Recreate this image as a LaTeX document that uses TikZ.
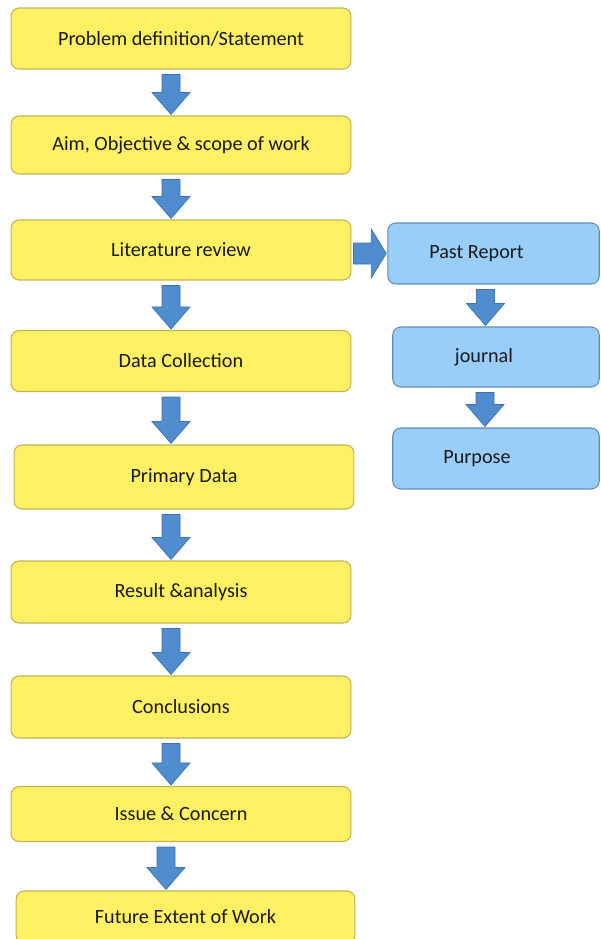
\documentclass[tikz,border=0pt]{standalone}
\usepackage{fontspec}
\setmainfont{Carlito}
\usepackage{xcolor}
\definecolor{box_yellow}{RGB}{255,240,100}
\definecolor{edge_yellow}{RGB}{190,180,80}
\definecolor{box_blue}{RGB}{153,206,250}
\definecolor{edge_blue}{RGB}{100,140,178}
\definecolor{arrow_blue}{RGB}{80,141,206}
\definecolor{arrow_edge}{RGB}{64,114,172}
\usetikzlibrary{calc}
\tikzset{
  stepyellow/.style={draw=edge_yellow, fill=box_yellow, line width=0.6pt, rounded corners=0.16cm,
    minimum width=6.8cm, text=black!90, font=\fontsize{11.5}{13}\selectfont},
  stepblue/.style={draw=edge_blue, fill=box_blue, line width=0.6pt, rounded corners=0.16cm,
    text=black!90, font=\fontsize{11.5}{13}\selectfont},
  blockarrow/.style={fill=arrow_blue, draw=arrow_edge, line width=0.4pt}
}
\newcommand{\downblock}[3]{%
  \draw[blockarrow] ($(#1.south)+(#3-9,5)$) -- ($(#1.south |- #2.north)+(#3-9,-23)$)
    -- ($(#1.south |- #2.north)+(#3-19,-23)$) -- ($(#1.south |- #2.north)+(#3,-1)$)
    -- ($(#1.south |- #2.north)+(#3+19,-23)$) -- ($(#1.south |- #2.north)+(#3+9,-23)$)
    -- ($(#1.south)+(#3+9,5)$) -- cycle;}

\begin{document}
\begin{tikzpicture}[x=0.02cm, y=-0.02cm]
\useasboundingbox (0,0) rectangle (601,939);

\node (prob) [stepyellow, minimum height=1.22cm] at (181,38.5) {Problem definition/Statement};
\node (aim) [stepyellow, minimum height=1.16cm] at (181,145) {Aim, Objective \& scope of work};
\node (lit) [stepyellow, minimum height=1.2cm] at (181,250) {Literature review};
\node (data) [stepyellow, minimum height=1.22cm] at (181,361) {Data Collection};
\node (prim) [stepyellow, minimum height=1.28cm] at (184,477) {Primary Data};
\node (res) [stepyellow, minimum height=1.24cm] at (181,592) {Result \&analysis};
\node (conc) [stepyellow, minimum height=1.24cm] at (181,707) {Conclusions};
\node (issue) [stepyellow, minimum height=1.1cm] at (181,814) {Issue \& Concern};
\node (future) [stepyellow, minimum height=1.04cm, minimum width=6.78cm] at (185.5,917) {Future Extent of Work};

\node (past) [stepblue, minimum width=4.23cm, minimum height=1.22cm] at (493.5,253.5) {Past Report\hspace*{0.68cm}};
\node (jour) [stepblue, minimum width=4.13cm, minimum height=1.2cm] at (496,357) {journal\hspace*{0.48cm}};
\node (purp) [stepblue, minimum width=4.13cm, minimum height=1.22cm] at (496,458.5) {Purpose\hspace*{0.76cm}};

\downblock{prob}{aim}{-10}
\downblock{aim}{lit}{-10}
\downblock{lit}{data}{-10}
\downblock{data}{prim}{-10}
\downblock{prim}{res}{-13}
\downblock{res}{conc}{-10}
\downblock{conc}{issue}{-10}
\downblock{issue}{future}{-15}

\downblock{past}{jour}{-8}
\downblock{jour}{purp}{-11}

\draw[blockarrow] ($(lit.east |- past.west)+(2,-10.5)$) -- ($(past.west)+(-16,-10.5)$)
  -- ($(past.west)+(-16,-24.5)$) -- ($(past.west)+(-1,0)$) -- ($(past.west)+(-16,24.5)$)
  -- ($(past.west)+(-16,10.5)$) -- ($(lit.east |- past.west)+(2,10.5)$) -- cycle;

\end{tikzpicture}
\end{document}
